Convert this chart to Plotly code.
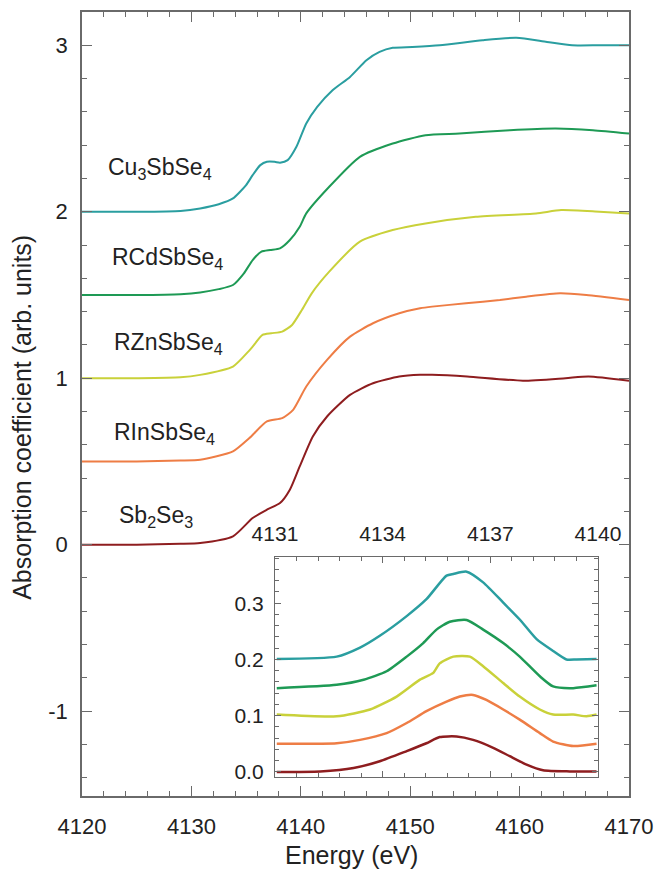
import plotly.graph_objects as go

# ---------------- main spectra (energy in eV, absorption incl. vertical offset) ----------------
names = ["Cu<sub>3</sub>SbSe<sub>4</sub>", "RCdSbSe<sub>4</sub>", "RZnSbSe<sub>4</sub>",
         "RInSbSe<sub>4</sub>", "Sb<sub>2</sub>Se<sub>3</sub>"]
colors = ["#2a9ea0", "#1e9a55", "#c9d13a", "#ee7d45", "#8e1d1f"]

cu_E = [4120, 4125, 4129, 4130.8, 4132.5, 4133.8, 4135.0, 4135.6, 4136.3, 4136.9, 4137.6, 4138.1,
        4138.8, 4139.6, 4140.5, 4141.5, 4142.9, 4144.5, 4146.0, 4147.2, 4148.4, 4150.2, 4152.7,
        4156.6, 4159.7, 4162.5, 4164.8, 4167.3, 4170]
cu_v = [2.0, 2.0, 2.005, 2.02, 2.045, 2.08, 2.16, 2.22, 2.28, 2.30, 2.30, 2.295,
        2.31, 2.39, 2.53, 2.63, 2.73, 2.81, 2.91, 2.96, 2.985, 2.99, 3.0,
        3.03, 3.045, 3.02, 3.0, 3.0, 3.0]

cd_E = [4120, 4125, 4129, 4130.8, 4132.5, 4133.8, 4134.8, 4135.6, 4136.4, 4137.2, 4138.1, 4139.0,
        4139.9, 4140.5, 4142.6, 4145.4, 4148.4, 4151.4, 4154.5, 4159.1, 4163.3, 4166.7, 4170]
cd_v = [1.5, 1.5, 1.505, 1.515, 1.535, 1.56, 1.63, 1.71, 1.76, 1.77, 1.78, 1.83,
        1.91, 1.99, 2.15, 2.33, 2.41, 2.46, 2.47, 2.49, 2.50, 2.49, 2.47]

zn_E = [4120, 4125, 4129, 4130.8, 4133.8, 4135.2, 4135.6, 4136.5, 4137.3, 4138.3, 4139.2, 4140.1,
        4141.0, 4142.6, 4145.4, 4148.4, 4151.4, 4156.0, 4161.5, 4163.8, 4167.3, 4170]
zn_v = [1.0, 1.0, 1.005, 1.02, 1.07, 1.16, 1.19, 1.26, 1.27, 1.28, 1.32, 1.41,
        1.51, 1.64, 1.82, 1.89, 1.93, 1.97, 1.99, 2.01, 2.0, 1.99]

in_E = [4120, 4125, 4129, 4130.8, 4133.8, 4135.3, 4136.9, 4138.3, 4139.3, 4140.5, 4142.4, 4144.5,
        4146.6, 4149.0, 4150.9, 4152.0, 4155.1, 4158.2, 4160.6, 4163.7, 4166.1, 4170]
in_v = [0.5, 0.5, 0.505, 0.51, 0.56, 0.64, 0.74, 0.76, 0.81, 0.95, 1.11, 1.25,
        1.33, 1.39, 1.42, 1.43, 1.45, 1.47, 1.49, 1.51, 1.50, 1.47]

sb_E = [4120, 4125, 4129, 4130.8, 4133.8, 4135.6, 4136.9, 4138.1, 4139.0, 4139.9, 4141.1, 4142.4,
        4144.5, 4146.6, 4149.0, 4150.9, 4152.0, 4155.2, 4160.3, 4164.2, 4166.3, 4170]
sb_v = [0.0, 0.0, 0.005, 0.01, 0.05, 0.16, 0.21, 0.25, 0.33, 0.47, 0.65, 0.77,
        0.90, 0.97, 1.01, 1.02, 1.02, 1.01, 0.985, 1.00, 1.01, 0.985]

main_E = [cu_E, cd_E, zn_E, in_E, sb_E]
main_v = [cu_v, cd_v, zn_v, in_v, sb_v]

# label anchor positions (energy, absorption) for the curve names
label_E = [4122.2, 4122.6, 4122.7, 4122.7, 4123.2]
label_v = [2.26, 1.72, 1.21, 0.67, 0.17]

# ---------------- inset (pre-edge difference spectra) ----------------
icu_E = [4131.05, 4132.72, 4133.37, 4133.92, 4134.67, 4135.22, 4135.78, 4135.97, 4136.34, 4136.80,
         4137.36, 4137.82, 4138.29, 4138.75, 4139.12, 4139.40, 4139.96]
icu_v = [0.201, 0.205, 0.221, 0.242, 0.277, 0.307, 0.349, 0.352, 0.356, 0.337,
         0.301, 0.271, 0.236, 0.215, 0.200, 0.200, 0.201]
icd_E = [4131.05, 4132.72, 4133.47, 4134.11, 4134.67, 4135.13, 4135.50, 4135.87, 4136.34, 4136.80,
         4137.36, 4137.82, 4138.38, 4138.75, 4139.31, 4139.96]
icd_v = [0.149, 0.155, 0.164, 0.179, 0.205, 0.229, 0.253, 0.267, 0.270, 0.253,
         0.229, 0.205, 0.170, 0.152, 0.149, 0.154]
izn_E = [4131.05, 4132.72, 4133.65, 4134.39, 4135.04, 4135.41, 4135.59, 4135.97, 4136.43, 4136.80,
         4137.36, 4137.82, 4138.38, 4138.75, 4139.31, 4139.68, 4139.96]
izn_v = [0.102, 0.099, 0.111, 0.134, 0.164, 0.176, 0.193, 0.205, 0.205, 0.188,
         0.158, 0.134, 0.111, 0.102, 0.102, 0.099, 0.102]
iin_E = [4131.05, 4132.72, 4133.37, 4134.11, 4134.67, 4135.22, 4135.78, 4136.15, 4136.52, 4136.89,
         4137.36, 4137.82, 4138.38, 4138.75, 4139.31, 4139.96]
iin_v = [0.050, 0.051, 0.057, 0.069, 0.087, 0.108, 0.125, 0.134, 0.137, 0.128,
         0.111, 0.093, 0.069, 0.054, 0.046, 0.050]
isb_E = [4131.05, 4132.26, 4133.19, 4133.92, 4134.67, 4135.22, 4135.59, 4136.06, 4136.52, 4137.08,
         4137.54, 4138.01, 4138.47, 4139.21, 4139.96]
isb_v = [0.0, 0.001, 0.007, 0.019, 0.037, 0.051, 0.062, 0.063, 0.057, 0.043,
         0.028, 0.013, 0.003, 0.001, 0.001]

inset_E = [icu_E, icd_E, izn_E, iin_E, isb_E]
inset_v = [icu_v, icd_v, izn_v, iin_v, isb_v]

# tick labels
main_x_ticks = [4120, 4130, 4140, 4150, 4160, 4170]
main_y_ticks = [-1, 0, 1, 2, 3]
main_y_text = ["-1", "0", "1", "2", "3"]
inset_x_ticks = [4131, 4134, 4137, 4140]
inset_y_ticks = [0.0, 0.1, 0.2, 0.3]

FONT = "Liberation Sans, Arial, sans-serif"
TXT = "#222222"
AX = "#6a6a6a"

fig = go.Figure()
for E, v, c in zip(main_E, main_v, colors):
    fig.add_trace(go.Scatter(x=E, y=v, mode="lines", line=dict(color=c, width=2, shape="spline", smoothing=0.6),
                             showlegend=False, xaxis="x", yaxis="y"))
for E, v, c in zip(inset_E, inset_v, colors):
    fig.add_trace(go.Scatter(x=E, y=v, mode="lines", line=dict(color=c, width=2.5, shape="spline", smoothing=0.6),
                             showlegend=False, xaxis="x2", yaxis="y2"))

for n, ex, vy in zip(names, label_E, label_v):
    fig.add_annotation(x=ex, y=vy, xref="x", yref="y", text=n, showarrow=False,
                       xanchor="left", yanchor="middle", font=dict(size=23, color=TXT, family=FONT))

fig.add_annotation(x=-0.11, y=0.4834, xref="paper", yref="paper", text="Absorption coefficient (arb. units)",
                   textangle=-90, showarrow=False, xanchor="center", yanchor="middle",
                   font=dict(size=25, color=TXT, family=FONT))
fig.add_annotation(x=0.4936, y=-0.0753, xref="paper", yref="paper", text="Energy (eV)",
                   showarrow=False, xanchor="center", yanchor="middle",
                   font=dict(size=25, color=TXT, family=FONT))

fig.update_layout(
    width=655, height=869, autosize=False,
    margin=dict(l=82, r=26, t=12, b=73, autoexpand=False),
    paper_bgcolor="white", plot_bgcolor="white",
    font=dict(family=FONT, color=TXT),
    xaxis=dict(range=[4120, 4170], tickvals=main_x_ticks, ticks="inside", ticklen=10, tickwidth=1.3,
               tickcolor=AX, showline=True, linecolor=AX, linewidth=1.5, mirror="ticks", automargin=False,
               showgrid=False, zeroline=False, tickfont=dict(size=22, color=TXT), ticklabelstandoff=10,
               minor=dict(dtick=2, tick0=4120, ticks="inside", ticklen=5, tickcolor=AX, showgrid=False)),
    yaxis=dict(range=[-1.51, 3.2], tickvals=main_y_ticks, ticktext=main_y_text, ticks="inside", ticklen=10,
               tickwidth=1.3, tickcolor=AX, showline=True, linecolor=AX, linewidth=1.5, mirror="ticks",
               automargin=False,
               showgrid=False, zeroline=False, tickfont=dict(size=22, color=TXT), ticklabelstandoff=8,
               minor=dict(dtick=0.2, tick0=0, ticks="inside", ticklen=5, tickcolor=AX, showgrid=False)),
    xaxis2=dict(domain=[0.3528, 0.9433], anchor="y2", side="top", range=[4131, 4140], tickvals=inset_x_ticks,
                ticks="inside", ticklen=6, tickcolor=AX, showline=True, linecolor=AX, linewidth=1.3,
                mirror="ticks", showgrid=False, zeroline=False, tickfont=dict(size=21, color=TXT),
                ticklabelstandoff=6, automargin=False,
                minor=dict(dtick=0.6, tick0=4131, ticks="inside", ticklen=4, tickcolor=AX, showgrid=False)),
    yaxis2=dict(domain=[0.0242, 0.3048], anchor="x2", range=[-0.009, 0.382], tickvals=inset_y_ticks,
                tickformat=".1f", ticks="inside", ticklen=6, tickcolor=AX, showline=True, linecolor=AX,
                linewidth=1.3, mirror="ticks", showgrid=False, zeroline=False, automargin=False,
                tickfont=dict(size=21, color=TXT), ticklabelstandoff=6,
                minor=dict(dtick=0.02, tick0=0, ticks="inside", ticklen=4, tickcolor=AX, showgrid=False)),
)

fig.write_html("out.html")
